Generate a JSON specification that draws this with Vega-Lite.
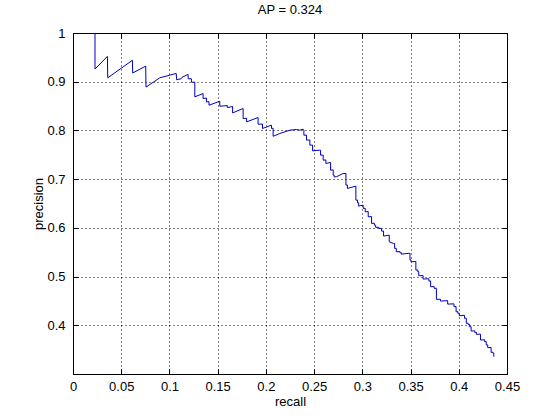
{
  "$schema": "https://vega.github.io/schema/vega-lite/v6.json",
  "width": 434,
  "height": 341,
  "autosize": {"type": "none"},
  "padding": {"left": 73, "top": 33, "right": 53, "bottom": 46},
  "background": "white",
  "title": {"text": "AP = 0.324", "font": "Liberation Sans", "fontSize": 13, "fontWeight": "normal", "color": "black", "offset": 10, "anchor": "middle"},
  "config": {
    "view": {"stroke": "black", "strokeWidth": 1},
    "axis": {"labelFont": "Liberation Sans", "labelFontSize": 13, "labelColor": "black", "titleFont": "Liberation Sans", "titleFontSize": 13, "titleFontWeight": "normal", "titleColor": "black", "domainColor": "black", "tickColor": "black", "gridColor": "black", "gridDash": [1, 3], "gridOpacity": 1, "gridWidth": 1}
  },
  "data": {"values": [
    {"i":1,"recall":0.0228,"precision":1.0},
    {"i":2,"recall":0.0228,"precision":0.926},
    {"i":3,"recall":0.0357,"precision":0.952},
    {"i":4,"recall":0.0360,"precision":0.908},
    {"i":5,"recall":0.0616,"precision":0.944},
    {"i":6,"recall":0.0619,"precision":0.918},
    {"i":7,"recall":0.0754,"precision":0.932},
    {"i":8,"recall":0.0757,"precision":0.889},
    {"i":9,"recall":0.090,"precision":0.908},
    {"i":10,"recall":0.107,"precision":0.917},
    {"i":11,"recall":0.1075,"precision":0.904},
    {"i":12,"recall":0.112,"precision":0.906},
    {"i":13,"recall":0.113,"precision":0.909},
    {"i":14,"recall":0.1193,"precision":0.915},
    {"i":15,"recall":0.1195,"precision":0.906},
    {"i":16,"recall":0.1228,"precision":0.906},
    {"i":17,"recall":0.1228,"precision":0.899},
    {"i":18,"recall":0.1263,"precision":0.899},
    {"i":19,"recall":0.1263,"precision":0.869},
    {"i":20,"recall":0.1349,"precision":0.8757},
    {"i":21,"recall":0.1349,"precision":0.8654},
    {"i":22,"recall":0.1384,"precision":0.8665},
    {"i":23,"recall":0.1384,"precision":0.8585},
    {"i":24,"recall":0.1410,"precision":0.859},
    {"i":25,"recall":0.1410,"precision":0.8517},
    {"i":26,"recall":0.1522,"precision":0.860},
    {"i":27,"recall":0.1522,"precision":0.8497},
    {"i":28,"recall":0.1600,"precision":0.851},
    {"i":29,"recall":0.1600,"precision":0.847},
    {"i":30,"recall":0.1655,"precision":0.849},
    {"i":31,"recall":0.1655,"precision":0.836},
    {"i":32,"recall":0.1764,"precision":0.845},
    {"i":33,"recall":0.1764,"precision":0.8244},
    {"i":34,"recall":0.1800,"precision":0.825},
    {"i":35,"recall":0.1800,"precision":0.8175},
    {"i":36,"recall":0.1919,"precision":0.8265},
    {"i":37,"recall":0.1919,"precision":0.8128},
    {"i":38,"recall":0.1965,"precision":0.8130},
    {"i":39,"recall":0.1965,"precision":0.804},
    {"i":40,"recall":0.2058,"precision":0.8107},
    {"i":41,"recall":0.2058,"precision":0.804},
    {"i":42,"recall":0.2075,"precision":0.8045},
    {"i":43,"recall":0.2075,"precision":0.788},
    {"i":44,"recall":0.2145,"precision":0.7937},
    {"i":45,"recall":0.2248,"precision":0.8005},
    {"i":46,"recall":0.2318,"precision":0.8019},
    {"i":47,"recall":0.2352,"precision":0.8005},
    {"i":48,"recall":0.2386,"precision":0.8025},
    {"i":49,"recall":0.2394,"precision":0.8004},
    {"i":50,"recall":0.2394,"precision":0.7902},
    {"i":51,"recall":0.2421,"precision":0.7905},
    {"i":52,"recall":0.2421,"precision":0.780},
    {"i":53,"recall":0.2456,"precision":0.7805},
    {"i":54,"recall":0.2456,"precision":0.7697},
    {"i":55,"recall":0.2484,"precision":0.770},
    {"i":56,"recall":0.2484,"precision":0.758},
    {"i":57,"recall":0.2552,"precision":0.7594},
    {"i":58,"recall":0.2567,"precision":0.7594},
    {"i":59,"recall":0.2567,"precision":0.7492},
    {"i":60,"recall":0.2594,"precision":0.7495},
    {"i":61,"recall":0.2594,"precision":0.7389},
    {"i":62,"recall":0.2622,"precision":0.7395},
    {"i":63,"recall":0.2622,"precision":0.7321},
    {"i":64,"recall":0.2671,"precision":0.7344},
    {"i":65,"recall":0.2671,"precision":0.7184},
    {"i":66,"recall":0.2698,"precision":0.719},
    {"i":67,"recall":0.2698,"precision":0.7082},
    {"i":68,"recall":0.2708,"precision":0.7082},
    {"i":69,"recall":0.2708,"precision":0.7047},
    {"i":70,"recall":0.2733,"precision":0.705},
    {"i":71,"recall":0.2801,"precision":0.7116},
    {"i":72,"recall":0.2830,"precision":0.7116},
    {"i":73,"recall":0.2830,"precision":0.6877},
    {"i":74,"recall":0.2845,"precision":0.688},
    {"i":75,"recall":0.2845,"precision":0.6809},
    {"i":76,"recall":0.2933,"precision":0.6856},
    {"i":77,"recall":0.2933,"precision":0.6569},
    {"i":78,"recall":0.2950,"precision":0.657},
    {"i":79,"recall":0.2950,"precision":0.6514},
    {"i":80,"recall":0.2962,"precision":0.6516},
    {"i":81,"recall":0.2962,"precision":0.6446},
    {"i":82,"recall":0.3009,"precision":0.6466},
    {"i":83,"recall":0.3009,"precision":0.6399},
    {"i":84,"recall":0.3030,"precision":0.6402},
    {"i":85,"recall":0.3030,"precision":0.6329},
    {"i":86,"recall":0.3061,"precision":0.6335},
    {"i":87,"recall":0.3061,"precision":0.6226},
    {"i":88,"recall":0.3096,"precision":0.6232},
    {"i":89,"recall":0.3096,"precision":0.6091},
    {"i":90,"recall":0.3125,"precision":0.6095},
    {"i":91,"recall":0.3125,"precision":0.6056},
    {"i":92,"recall":0.3138,"precision":0.6058},
    {"i":93,"recall":0.3138,"precision":0.6009},
    {"i":94,"recall":0.3170,"precision":0.6012},
    {"i":95,"recall":0.3170,"precision":0.5988},
    {"i":96,"recall":0.3200,"precision":0.599},
    {"i":97,"recall":0.3200,"precision":0.5933},
    {"i":98,"recall":0.3220,"precision":0.5935},
    {"i":99,"recall":0.3220,"precision":0.5831},
    {"i":100,"recall":0.3279,"precision":0.5851},
    {"i":101,"recall":0.3279,"precision":0.5714},
    {"i":102,"recall":0.3320,"precision":0.5681},
    {"i":103,"recall":0.3335,"precision":0.5681},
    {"i":104,"recall":0.3335,"precision":0.5578},
    {"i":105,"recall":0.3352,"precision":0.558},
    {"i":106,"recall":0.3352,"precision":0.5509},
    {"i":107,"recall":0.3390,"precision":0.5512},
    {"i":108,"recall":0.3390,"precision":0.5488},
    {"i":109,"recall":0.3405,"precision":0.549},
    {"i":110,"recall":0.3405,"precision":0.5461},
    {"i":111,"recall":0.3476,"precision":0.5476},
    {"i":112,"recall":0.3494,"precision":0.5480},
    {"i":113,"recall":0.3494,"precision":0.5339},
    {"i":114,"recall":0.3504,"precision":0.5340},
    {"i":115,"recall":0.3504,"precision":0.5304},
    {"i":116,"recall":0.3555,"precision":0.5310},
    {"i":117,"recall":0.3555,"precision":0.5133},
    {"i":118,"recall":0.3575,"precision":0.5136},
    {"i":119,"recall":0.3575,"precision":0.5098},
    {"i":120,"recall":0.3585,"precision":0.510},
    {"i":121,"recall":0.3585,"precision":0.5016},
    {"i":122,"recall":0.3630,"precision":0.5020},
    {"i":123,"recall":0.3630,"precision":0.4949},
    {"i":124,"recall":0.3690,"precision":0.4955},
    {"i":125,"recall":0.3690,"precision":0.4908},
    {"i":126,"recall":0.3708,"precision":0.491},
    {"i":127,"recall":0.3708,"precision":0.4791},
    {"i":128,"recall":0.3745,"precision":0.4795},
    {"i":129,"recall":0.3745,"precision":0.4758},
    {"i":130,"recall":0.3768,"precision":0.476},
    {"i":131,"recall":0.3768,"precision":0.4532},
    {"i":132,"recall":0.3810,"precision":0.4535},
    {"i":133,"recall":0.3810,"precision":0.4497},
    {"i":134,"recall":0.3885,"precision":0.4505},
    {"i":135,"recall":0.3885,"precision":0.4435},
    {"i":136,"recall":0.3950,"precision":0.444},
    {"i":137,"recall":0.3950,"precision":0.4381},
    {"i":138,"recall":0.3972,"precision":0.4385},
    {"i":139,"recall":0.3972,"precision":0.4278},
    {"i":140,"recall":0.3990,"precision":0.428},
    {"i":141,"recall":0.3990,"precision":0.4245},
    {"i":142,"recall":0.4005,"precision":0.4248},
    {"i":143,"recall":0.4005,"precision":0.4196},
    {"i":144,"recall":0.4060,"precision":0.4205},
    {"i":145,"recall":0.4060,"precision":0.4143},
    {"i":146,"recall":0.4078,"precision":0.4146},
    {"i":147,"recall":0.4078,"precision":0.404},
    {"i":148,"recall":0.4095,"precision":0.4043},
    {"i":149,"recall":0.4095,"precision":0.402},
    {"i":150,"recall":0.4110,"precision":0.4022},
    {"i":151,"recall":0.4110,"precision":0.397},
    {"i":152,"recall":0.4128,"precision":0.3972},
    {"i":153,"recall":0.4128,"precision":0.3882},
    {"i":154,"recall":0.4165,"precision":0.3886},
    {"i":155,"recall":0.4165,"precision":0.3855},
    {"i":156,"recall":0.4182,"precision":0.3857},
    {"i":157,"recall":0.4182,"precision":0.3814},
    {"i":158,"recall":0.4225,"precision":0.3818},
    {"i":159,"recall":0.4225,"precision":0.3698},
    {"i":160,"recall":0.4268,"precision":0.3702},
    {"i":161,"recall":0.4268,"precision":0.3663},
    {"i":162,"recall":0.4285,"precision":0.3665},
    {"i":163,"recall":0.4285,"precision":0.3595},
    {"i":164,"recall":0.4300,"precision":0.3597},
    {"i":165,"recall":0.4300,"precision":0.354},
    {"i":166,"recall":0.4335,"precision":0.3545},
    {"i":167,"recall":0.4335,"precision":0.3445},
    {"i":168,"recall":0.4355,"precision":0.3447},
    {"i":169,"recall":0.4355,"precision":0.3425},
    {"i":170,"recall":0.4363,"precision":0.3425},
    {"i":171,"recall":0.4363,"precision":0.3355}
  ]},
  "layer": [
    {
      "mark": {"type": "line", "color": "#0000c0", "strokeWidth": 1, "clip": true},
      "encoding": {
        "x": {"field": "recall", "type": "quantitative", "scale": {"domain": [0, 0.45], "nice": false, "zero": false},
          "axis": {"orient": "bottom", "values": [0,0.05,0.1,0.15,0.2,0.25,0.3,0.35,0.4,0.45], "format": "~g", "grid": true, "tickSize": -5, "labelPadding": 11, "title": "recall", "titleX": 217, "titleY": 31, "titleBaseline": "alphabetic", "titleAnchor": null, "labelFlush": false}},
        "y": {"field": "precision", "type": "quantitative", "scale": {"domain": [0.3, 1], "nice": false, "zero": false},
          "axis": {"orient": "left", "values": [0.4,0.5,0.6,0.7,0.8,0.9,1], "format": "~g", "grid": true, "tickSize": -5, "labelPadding": 13, "title": "precision", "titleX": -35, "titleY": 170.5, "titleAngle": -90, "titleBaseline": "middle", "titleAlign": "center", "labelFlush": false}},
        "order": {"field": "i", "type": "quantitative"}
      }
    },
    {
      "mark": {"type": "line", "opacity": 0},
      "encoding": {
        "x": {"field": "recall", "type": "quantitative", "axis": {"orient": "top", "values": [0,0.05,0.1,0.15,0.2,0.25,0.3,0.35,0.4,0.45], "labels": false, "grid": false, "tickSize": -5, "title": null}},
        "y": {"field": "precision", "type": "quantitative", "axis": {"orient": "right", "values": [0.4,0.5,0.6,0.7,0.8,0.9,1], "labels": false, "grid": false, "tickSize": -5, "title": null}},
        "order": {"field": "i", "type": "quantitative"}
      }
    }
  ],
  "resolve": {"axis": {"x": "independent", "y": "independent"}}
}
